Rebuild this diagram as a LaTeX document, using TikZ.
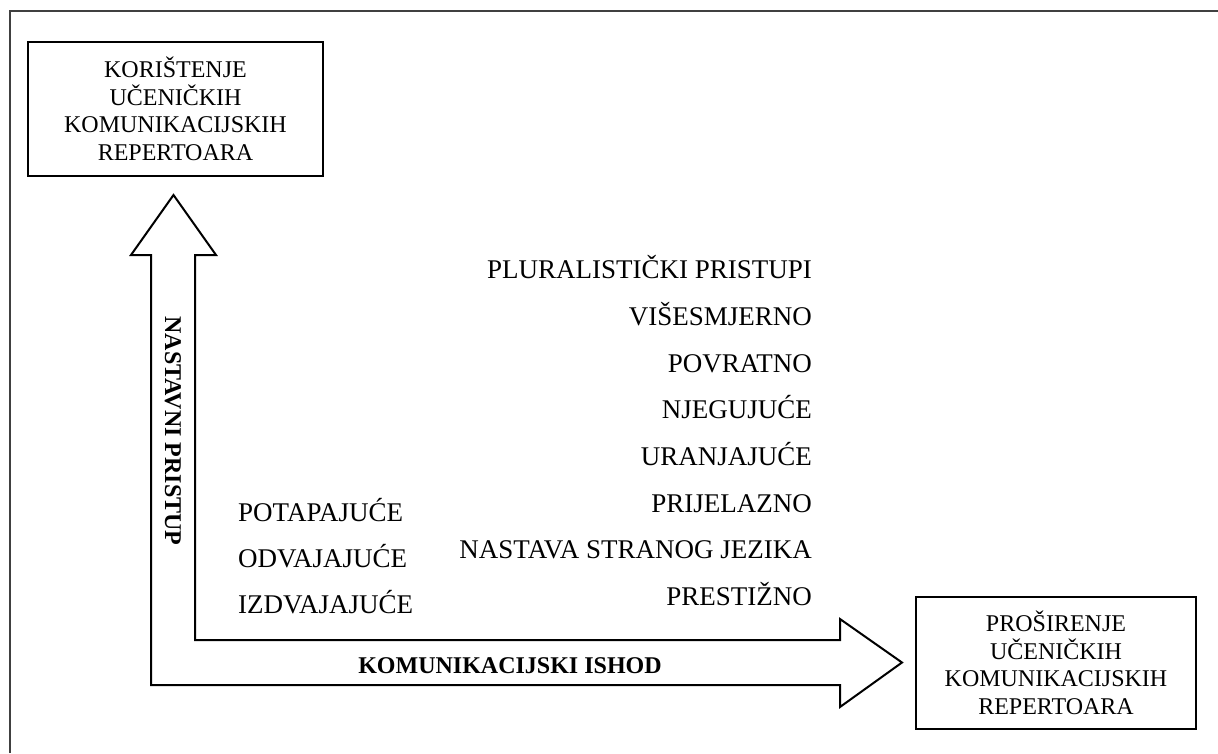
\documentclass[tikz,border=0pt]{standalone}
\usepackage{fontspec}
\setmainfont{Liberation Serif}
\begin{document}
\begin{tikzpicture}[x=1pt,y=-1pt,
  box/.style={draw, line width=1.2pt, align=center, inner sep=0pt,
    font=\fontsize{24}{27.5}\selectfont},
  itemr/.style={font=\fontsize{27}{32}\selectfont, inner sep=0pt, anchor=base east},
  iteml/.style={font=\fontsize{27}{32}\selectfont, inner sep=0pt, anchor=base west},
  axislabel/.style={font=\fontsize{24}{28}\selectfont\bfseries, inner sep=0pt},
  blockarrow/.style={draw, line width=2pt, line join=miter},
  frameline/.style={draw, line width=1.3pt, black!75}]
\useasboundingbox (0,0) rectangle (1218,753);
% outer frame (open at right and bottom)
\draw[frameline] (10,753) -- (10,11) -- (1218,11);
% boxes
\node[box, minimum width=295pt, minimum height=134pt] (kor) at (175.5,109)
  {KORIŠTENJE\\UČENIČKIH\\KOMUNIKACIJSKIH\\REPERTOARA};
\node[box, minimum width=280pt, minimum height=132pt] (pro) at (1056,663)
  {PROŠIRENJE\\UČENIČKIH\\KOMUNIKACIJSKIH\\REPERTOARA};
% L-shaped block arrow
\draw[blockarrow] (173.5,195) -- (216,255) -- (195,255) -- (195,640)
  -- (840,640) -- (840,619) -- (902,662.5) -- (840,707) -- (840,685)
  -- (151,685) -- (151,255) -- (131,255) -- cycle;
% axis labels
\node[axislabel, rotate=-90] (np) at (173,431) {NASTAVNI PRISTUP};
\node[axislabel, anchor=base] (ki) at (510,673) {KOMUNIKACIJSKI ISHOD};
% right list
\node[itemr] (r1) at (812,278) {PLURALISTIČKI PRISTUPI};
\node[itemr] (r2) at (812,325) {VIŠESMJERNO};
\node[itemr] (r3) at (812,372) {POVRATNO};
\node[itemr] (r4) at (812,418) {NJEGUJUĆE};
\node[itemr] (r5) at (812,465) {URANJAJUĆE};
\node[itemr] (r6) at (812,512) {PRIJELAZNO};
\node[itemr] (r7) at (812,558) {NASTAVA STRANOG JEZIKA};
\node[itemr] (r8) at (812,605) {PRESTIŽNO};
% left list
\node[iteml] (l1) at (238,521) {POTAPAJUĆE};
\node[iteml] (l2) at (238,567) {ODVAJAJUĆE};
\node[iteml] (l3) at (238,613) {IZDVAJAJUĆE};
\end{tikzpicture}
\end{document}
